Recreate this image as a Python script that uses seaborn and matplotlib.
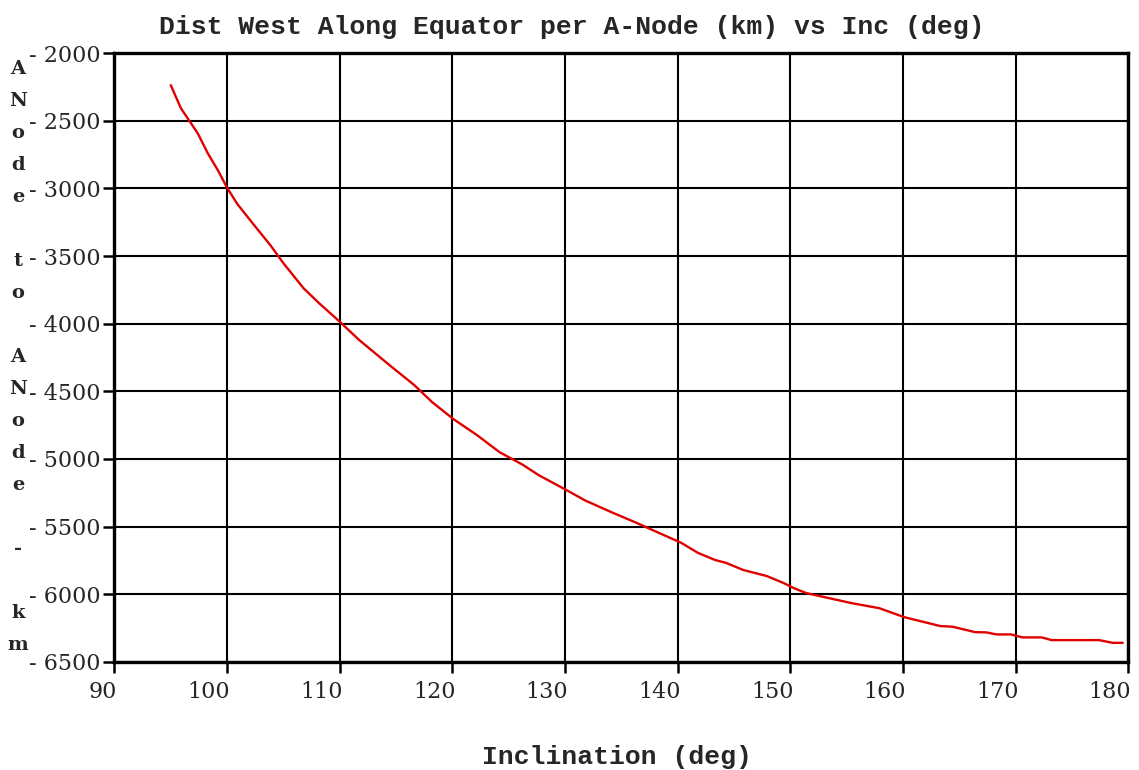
import numpy as np
import pandas as pd
import matplotlib
matplotlib.use("Agg")
import matplotlib.pyplot as plt
import matplotlib.transforms as mtransforms
import seaborn as sns

# inclination (deg) vs distance west along equator per A-node (km)
inc = [95.0, 95.9, 96.5, 97.4, 98.3, 99.2, 100.0, 100.9, 102.1, 103.9,
       105.0, 106.8, 108.2, 110.0, 111.7, 114.6, 116.6, 118.2, 120.1, 122.2,
       124.2, 126.2, 127.7, 130.2, 131.8, 134.2, 136.3, 138.3, 140.3, 141.8,
       143.3, 144.3, 145.8, 147.9, 149.4, 150.3, 151.4, 153.4, 155.4, 157.9,
       160.1, 163.3, 164.4, 166.4, 167.4, 168.3, 169.6, 170.6, 172.3, 173.2,
       177.4, 178.6, 179.5]
dist = [-2236, -2407, -2481, -2593, -2742, -2868, -2995, -3114, -3240, -3426,
        -3553, -3739, -3851, -3985, -4119, -4319, -4453, -4580, -4706, -4825,
        -4951, -5041, -5122, -5234, -5308, -5397, -5471, -5546, -5620, -5695,
        -5747, -5769, -5821, -5866, -5918, -5955, -5992, -6029, -6066, -6104,
        -6170, -6236, -6241, -6281, -6283, -6298, -6298, -6320, -6320, -6340,
        -6340, -6360, -6360]

xticks = list(range(90, 181, 10))
yticks = list(range(-2000, -6501, -500))
ylabel_txt = "ANode to ANode - km"

sns.set_style("white")
plt.rcParams['font.family'] = ['DejaVu Serif']

fig = plt.figure(figsize=(11.39, 7.7), dpi=100)
ax = fig.add_axes([0.1005, 0.1406, 0.8901, 0.7902])

df = pd.DataFrame({"inc": inc, "dist": dist})
sns.lineplot(data=df, x="inc", y="dist", ax=ax, color="#e00000", linewidth=1.7)

ax.set_xlim(90, 180)
ax.set_ylim(-6500, -2000)
ax.set_xticks(xticks)
ax.set_yticks(yticks)
ax.set_xticklabels([str(t) for t in xticks])
ax.set_yticklabels(["- " + str(abs(t)) for t in yticks])
ax.grid(True, color="black", linewidth=1.5)
ax.set_axisbelow(True)
for s in ax.spines.values():
    s.set_color("black")
    s.set_linewidth(2.4)
ax.tick_params(axis="both", direction="out", length=8, width=1.8, color="black",
               labelsize=16, left=True, bottom=True)
ax.tick_params(axis="x", pad=6)
ax.tick_params(axis="y", pad=2)
shift = mtransforms.ScaledTranslation(3 / 100, 0, fig.dpi_scale_trans)
for lab in ax.get_xticklabels():
    lab.set_ha("right")
    lab.set_transform(lab.get_transform() + shift)
ax.set_xlabel("")
ax.set_ylabel("")

mono = ['Liberation Mono', 'DejaVu Sans Mono']
fig.text(572 / 1139, 1 - 27 / 770, "Dist West Along Equator per A-Node (km) vs Inc (deg)",
         ha="center", va="center", fontsize=19, family=mono, weight="bold")
fig.text(617 / 1139, 1 - 757 / 770, "Inclination (deg)",
         ha="center", va="center", fontsize=19, family=mono, weight="bold")
fig.text(18 / 1139, 1 - 357 / 770, "\n".join(ylabel_txt),
         ha="center", va="center", fontsize=14, weight="bold", linespacing=2.0)

fig.savefig("out.png", dpi=100)
